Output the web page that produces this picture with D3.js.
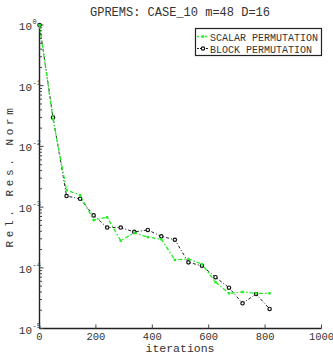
<!DOCTYPE html>
<html>
<head>
<meta charset="utf-8">
<script src="https://cdn.jsdelivr.net/npm/d3@7/dist/d3.min.js"></script>
<style>
  html, body { margin: 0; padding: 0; background: #fff; }
  svg { display: block; }
  text { font-family: "Liberation Mono", "DejaVu Sans Mono", monospace; fill: #333; }
</style>
</head>
<body>
<svg id="chart" width="333" height="353"></svg>
<script>
// Iteration counts (restart length m = 48)
const iterations = [0, 48, 96, 144, 192, 240, 288, 336, 384, 432, 480, 528, 576, 624, 672, 720, 768, 816];

// Relative residual norm, scalar permutation
const scalarResidual = [1.0, 0.028, 1.9e-3, 1.58e-3, 6.1e-4, 6.8e-4, 2.8e-4, 3.8e-4, 3.2e-4, 2.96e-4,
  1.35e-4, 1.40e-4, 1.15e-4, 5.8e-5, 3.8e-5, 4.0e-5, 3.8e-5, 3.8e-5];

// Relative residual norm, block permutation
const blockResidual = [1.0, 0.030, 1.52e-3, 1.37e-3, 7.3e-4, 4.6e-4, 4.6e-4, 3.9e-4, 4.2e-4, 3.3e-4,
  2.9e-4, 1.23e-4, 1.08e-4, 7.0e-5, 4.7e-5, 2.6e-5, 3.7e-5, 2.1e-5];

const xTicks = [0, 200, 400, 600, 800, 1000];
const yExponents = [0, -1, -2, -3, -4, -5];
const seriesNames = ["SCALAR PERMUTATION", "BLOCK PERMUTATION"];

const svg = d3.select("#chart");
const plotLeft = 39.5, plotRight = 321.5, plotTop = 25, plotBottom = 328.5;

const x = d3.scaleLinear().domain([0, 1000]).range([plotLeft, plotRight]);
const y = d3.scaleLog().domain([1e-5, 1]).range([plotBottom, plotTop]);

// Title
svg.append("text")
  .attr("x", 180).attr("y", 16)
  .attr("text-anchor", "middle")
  .style("font-size", "12px")
  .text("GPREMS: CASE_10 m=48 D=16");

// Axis lines
svg.append("line").attr("x1", plotLeft).attr("x2", plotLeft).attr("y1", plotTop).attr("y2", plotBottom)
  .attr("stroke", "#222").attr("stroke-width", 1.4);
svg.append("line").attr("x1", plotLeft).attr("x2", plotRight).attr("y1", plotBottom).attr("y2", plotBottom)
  .attr("stroke", "#222").attr("stroke-width", 1.4);

// X ticks pointing inward
svg.selectAll(".xtick").data(xTicks).enter().append("line")
  .attr("x1", d => x(d)).attr("x2", d => x(d))
  .attr("y1", plotBottom).attr("y2", plotBottom - 4)
  .attr("stroke", "#444").attr("stroke-width", 1);
svg.selectAll(".xlab").data(xTicks).enter().append("text")
  .attr("x", d => x(d)).attr("y", 340)
  .attr("text-anchor", "middle")
  .style("font-size", "10.5px")
  .text(d => d);

// Y major and minor ticks (log decades)
const minor = [];
for (let e = -5; e < 0; e++) {
  for (let k = 2; k <= 9; k++) minor.push(k * Math.pow(10, e));
}
svg.selectAll(".yminor").data(minor).enter().append("line")
  .attr("x1", plotLeft).attr("x2", plotLeft + 2.5)
  .attr("y1", d => y(d)).attr("y2", d => y(d))
  .attr("stroke", "#444").attr("stroke-width", 1);
svg.selectAll(".ymajor").data(yExponents).enter().append("line")
  .attr("x1", plotLeft).attr("x2", plotLeft + 4)
  .attr("y1", d => y(Math.pow(10, d))).attr("y2", d => y(Math.pow(10, d)))
  .attr("stroke", "#444").attr("stroke-width", 1);

const ylab = svg.selectAll(".ylab").data(yExponents).enter().append("g");
ylab.append("text")
  .attr("x", 32).attr("y", d => y(Math.pow(10, d)) + 5)
  .attr("text-anchor", "end")
  .style("font-size", "11px")
  .text("10");
ylab.append("text")
  .attr("x", 32.5).attr("y", d => y(Math.pow(10, d)) - 1)
  .style("font-size", "7px")
  .text(d => d);

// Axis titles
svg.append("text")
  .attr("x", 180).attr("y", 351.5)
  .attr("text-anchor", "middle")
  .style("font-size", "11.5px")
  .text("iterations");
svg.append("text")
  .attr("transform", "translate(13,176) rotate(-90)")
  .attr("text-anchor", "middle")
  .style("font-size", "11px")
  .style("letter-spacing", "3.6px")
  .text("Rel. Res. Norm");

// Series
const line = d3.line().x(d => x(d[0])).y(d => y(d[1]));
const scalarPts = iterations.map((it, i) => [it, scalarResidual[i]]);
const blockPts = iterations.map((it, i) => [it, blockResidual[i]]);

svg.append("path").datum(blockPts)
  .attr("d", line).attr("fill", "none")
  .attr("stroke", "#222").attr("stroke-width", 1)
  .attr("stroke-dasharray", "3,2,1,2");
svg.selectAll(".bpt").data(blockPts).enter().append("circle")
  .attr("cx", d => x(d[0])).attr("cy", d => y(d[1])).attr("r", 1.7)
  .attr("fill", "#fff").attr("stroke", "#111").attr("stroke-width", 1.2);

svg.append("path").datum(scalarPts)
  .attr("d", line).attr("fill", "none")
  .attr("stroke", "#22ee22").attr("stroke-width", 1.3)
  .attr("stroke-dasharray", "4,2,1.5,2");
svg.selectAll(".spt").data(scalarPts).enter().append("rect")
  .attr("x", d => x(d[0]) - 1.2).attr("y", d => y(d[1]) - 1.2)
  .attr("width", 2.4).attr("height", 2.4)
  .attr("fill", "#22ee22");

// Legend
const lg = svg.append("g");
lg.append("rect").attr("x", 195.5).attr("y", 28.5).attr("width", 126).attr("height", 27)
  .attr("fill", "#fff").attr("stroke", "#222").attr("stroke-width", 1.2);
lg.append("line").attr("x1", 197).attr("x2", 209).attr("y1", 36.5).attr("y2", 36.5)
  .attr("stroke", "#22ee22").attr("stroke-width", 1.3).attr("stroke-dasharray", "2,2");
lg.append("rect").attr("x", 201.8).attr("y", 35.3).attr("width", 2.4).attr("height", 2.4).attr("fill", "#22ee22");
lg.append("line").attr("x1", 197).attr("x2", 209).attr("y1", 48.5).attr("y2", 48.5)
  .attr("stroke", "#222").attr("stroke-width", 1).attr("stroke-dasharray", "2,1");
lg.append("circle").attr("cx", 203).attr("cy", 48.5).attr("r", 1.7)
  .attr("fill", "#fff").attr("stroke", "#111").attr("stroke-width", 1.2);
lg.selectAll(".lt").data(seriesNames).enter().append("text")
  .attr("x", 210).attr("y", (d, i) => 40.5 + i * 12)
  .style("font-size", "10px")
  .text(d => d);
</script>
</body>
</html>
